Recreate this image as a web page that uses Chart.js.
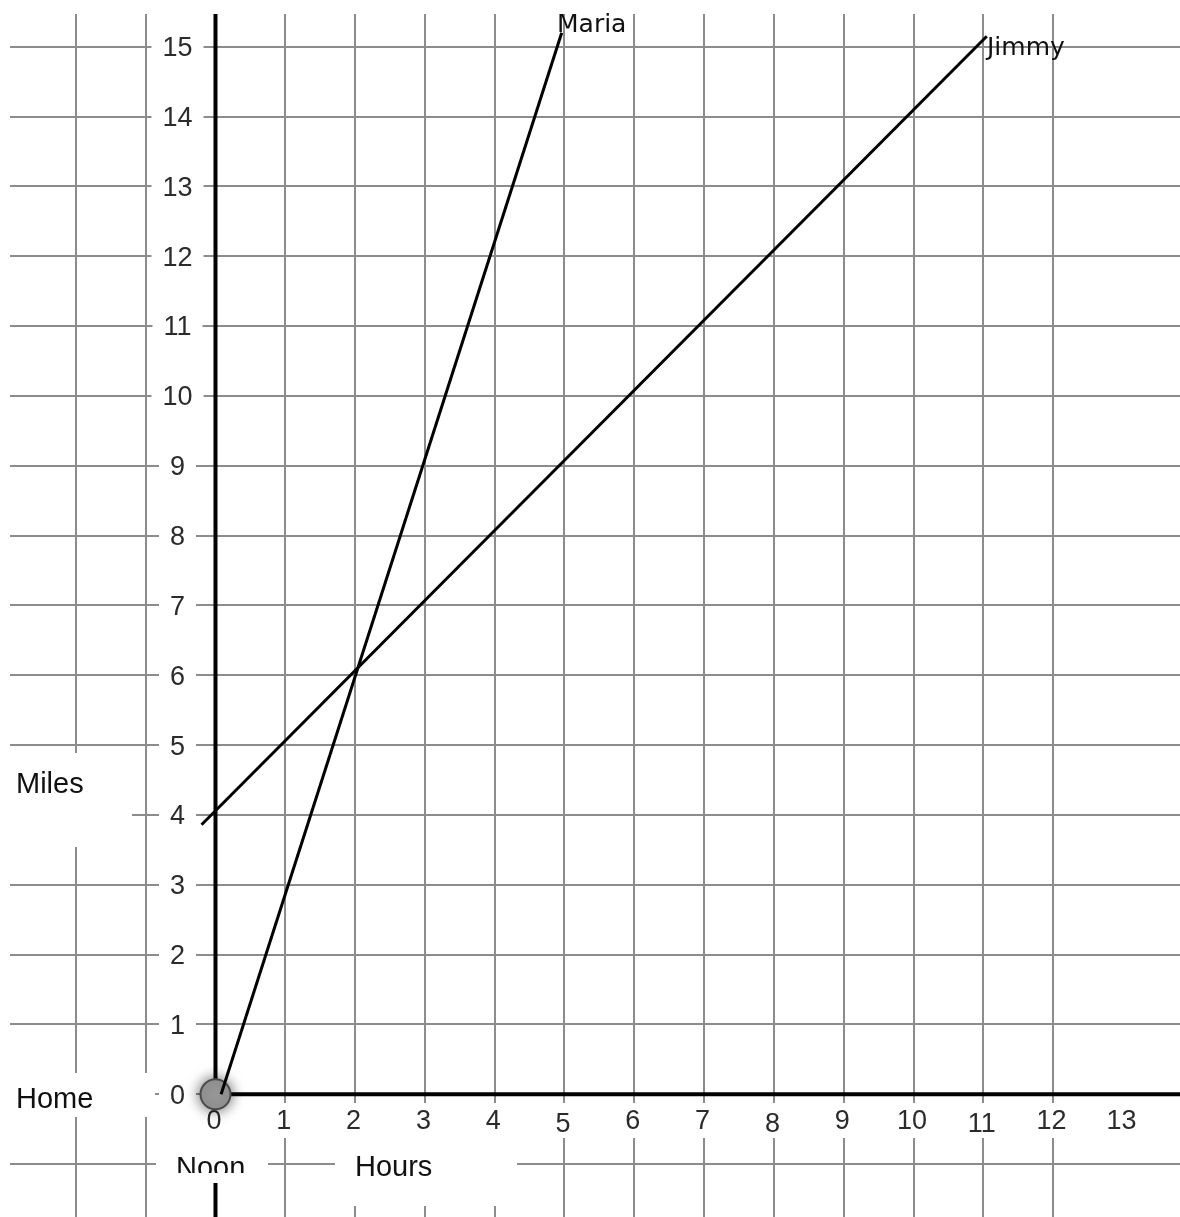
<!DOCTYPE html>
<html>
<head>
<meta charset="utf-8">
<script src="https://cdn.jsdelivr.net/npm/chart.js@4/dist/chart.umd.min.js"></script>
<style>
  html, body { margin: 0; padding: 0; background: #fff; overflow: hidden; }
  canvas { display: block; }
</style>
</head>
<body>
<canvas id="chart" width="1180" height="1217"></canvas>
<script>
// tick labels
var xTicks = [0, 1, 2, 3, 4, 5, 6, 7, 8, 9, 10, 11, 12, 13];
var yTicks = [0, 1, 2, 3, 4, 5, 6, 7, 8, 9, 10, 11, 12, 13, 14, 15];

// series (hours, miles)
var mariaHours = [0.08, 4.96];
var mariaMiles = [0, 15.2];
var jimmyHours = [-0.2, 11.05];
var jimmyMiles = [3.86, 15.15];
var homeHours = [0];
var homeMiles = [0];

function pts(xs, ys) {
    return xs.map((x, i) => ({ x: x, y: ys[i] }));
}

var gridColor = (c) => Number.isInteger(c.tick.value) ? '#8c8c8c' : 'rgba(0,0,0,0)';

var paper = {
    id: 'paper',
    beforeDatasetsDraw(chart) {
        var ctx = chart.ctx;
        var xs = chart.scales.x, ys = chart.scales.y;
        var area = chart.chartArea;
        var x0 = xs.getPixelForValue(0), y0 = ys.getPixelForValue(0);

        ctx.save();
        // axes
        ctx.strokeStyle = '#000';
        ctx.lineWidth = 4;
        ctx.beginPath();
        ctx.moveTo(x0, area.top);
        ctx.lineTo(x0, area.bottom);
        ctx.moveTo(x0, y0);
        ctx.lineTo(area.right, y0);
        ctx.stroke();

        // white patches behind the labels
        ctx.fillStyle = '#fff';
        ctx.fillRect(0, 753, 132, 94);     // Miles
        ctx.fillRect(0, 1073, 155, 44);    // Home
        ctx.fillRect(156, 1136, 112, 47);  // Noon
        ctx.fillRect(335, 1136, 182, 70);  // Hours

        ctx.font = '27px "Liberation Sans", Arial, sans-serif';
        ctx.textAlign = 'center';
        ctx.textBaseline = 'middle';
        yTicks.forEach(v => {
            var py = ys.getPixelForValue(v);
            var w = ctx.measureText(String(v)).width;
            ctx.fillStyle = '#fff';
            ctx.fillRect(177.5 - w / 2 - 11, py - 15, w + 22, 30);
            ctx.fillStyle = '#2b2b2b';
            ctx.fillText(String(v), 177.5, py + 2);
        });
        xTicks.forEach(v => {
            var px = xs.getPixelForValue(v) - 1.5;
            var w = ctx.measureText(String(v)).width;
            var dy = (v === 5 || v === 8 || v === 11) ? 3 : 0;
            ctx.fillStyle = '#fff';
            ctx.fillRect(px - w / 2 - 8, 1103, w + 16, 35);
            ctx.fillStyle = '#2b2b2b';
            ctx.fillText(String(v), px, 1122 + dy);
        });

        // axis words
        ctx.fillStyle = '#111';
        ctx.textAlign = 'left';
        ctx.textBaseline = 'alphabetic';
        ctx.font = '29px "Liberation Sans", Arial, sans-serif';
        ctx.fillText('Miles', 16, 793);
        ctx.fillText('Home', 16, 1108);
        ctx.fillText('Hours', 355, 1176);
        ctx.save();
        ctx.beginPath();
        ctx.rect(150, 1140, 120, 33);
        ctx.clip();
        ctx.fillText('Noon', 176, 1177);
        ctx.restore();

        // names at the line ends
        ctx.font = '25px "DejaVu Sans", sans-serif';
        ctx.fillStyle = '#111';
        ctx.fillText('Maria', 557, 32, 78);
        ctx.fillText('Jimmy', 987, 55, 86);
        ctx.restore();
    },
    beforeDatasetDraw(chart, args) {
        if (args.index === 2) {
            chart.ctx.save();
            chart.ctx.shadowColor = 'rgba(0,0,0,0.6)';
            chart.ctx.shadowBlur = 14;
        }
    },
    afterDatasetDraw(chart, args) {
        if (args.index === 2) {
            chart.ctx.restore();
        }
    }
};

var config = {
    type: 'scatter',
    data: {
        datasets: [
            {
                label: 'Maria',
                data: pts(mariaHours, mariaMiles),
                showLine: true,
                borderColor: '#000',
                borderWidth: 3,
                pointRadius: 0,
            },
            {
                label: 'Jimmy',
                data: pts(jimmyHours, jimmyMiles),
                showLine: true,
                borderColor: '#000',
                borderWidth: 3,
                pointRadius: 0,
            },
            {
                label: 'Home',
                data: pts(homeHours, homeMiles),
                pointRadius: 15,
                backgroundColor: '#9c9c9c',
                borderColor: '#4a4a4a',
                borderWidth: 2,
            }
        ]
    },
    options: {
        responsive: false,
        devicePixelRatio: 1,
        animation: false,
        layout: { autoPadding: false, padding: { left: 10, top: 14, right: 0, bottom: 0 } },
        plugins: { legend: { display: false }, tooltip: { enabled: false } },
        scales: {
            x: {
                type: 'linear',
                min: -2.944,
                max: 13.818,
                ticks: { display: false, stepSize: 1 },
                border: { display: false },
                grid: { color: gridColor, lineWidth: 2, drawTicks: false }
            },
            y: {
                type: 'linear',
                min: -1.757,
                max: 15.468,
                ticks: { display: false, stepSize: 1 },
                border: { display: false },
                grid: { color: gridColor, lineWidth: 2, drawTicks: false }
            }
        }
    },
    plugins: [paper]
};

window.onload = () => {
    new Chart(document.getElementById('chart'), config);
};
</script>
</body>
</html>
